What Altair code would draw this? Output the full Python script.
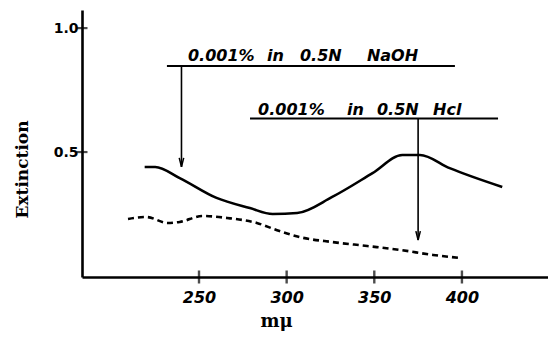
import altair as alt
import pandas as pd

# Absorption spectra: extinction against wavelength (mμ)
naoh_wl = [219, 225, 239, 260, 279, 292, 306, 326, 349, 366, 376, 393, 423]
naoh_ext = [0.44, 0.44, 0.395, 0.315, 0.274, 0.25, 0.254, 0.319, 0.415, 0.488, 0.488, 0.435, 0.359]

hcl_wl = [209.5, 220, 232, 239, 252, 266, 283, 294.5, 307.5, 326, 346, 365, 383.5, 399]
hcl_ext = [0.23, 0.238, 0.214, 0.218, 0.242, 0.234, 0.214, 0.185, 0.157, 0.137, 0.121, 0.105, 0.085, 0.073]

x_ticks = [250, 300, 350, 400]
y_ticks = [0.5, 1.0]

# Hand-lettered labels, one entry per word, with the leader arrows they carry
label_words = ["0.001%", "in", "0.5N", "NaOH", "0.001%", "in", "0.5N", "Hcl"]
label_word_x = [243.7, 288.8, 307.6, 345.8, 283.7, 334.4, 351.5, 383.5]
label_word_y = [0.867, 0.867, 0.867, 0.867, 0.649, 0.649, 0.649, 0.649]

underline_x = [231.7, 279.1]
underline_x2 = [396.0, 420.6]
underline_y = [0.847, 0.635]

arrow_x = [240, 375]
arrow_top = [0.847, 0.635]
arrow_tip = [0.44, 0.145]

X_MIN, X_MAX = 183.25, 449.1
Y_MIN, Y_MAX = -0.004, 1.073

naoh_df = pd.DataFrame({"wl": naoh_wl, "ext": naoh_ext})
hcl_df = pd.DataFrame({"wl": hcl_wl, "ext": hcl_ext})
words_df = pd.DataFrame({"word": label_words, "wl": label_word_x, "ext": label_word_y})
under_df = pd.DataFrame({"wl": underline_x, "wl2": underline_x2, "ext": underline_y})
arrow_df = pd.DataFrame({"wl": arrow_x, "top": arrow_top, "tip": arrow_tip})
xt_df = pd.DataFrame({"wl": x_ticks, "ext": [Y_MIN] * len(x_ticks)})
yt_df = pd.DataFrame({"wl": [X_MIN] * len(y_ticks), "ext": y_ticks})

xs = alt.Scale(domain=[X_MIN, X_MAX], nice=False, zero=False)
ys = alt.Scale(domain=[Y_MIN, Y_MAX], nice=False, zero=False)

x_axis = alt.Axis(
    values=x_ticks, title="mμ", grid=False, ticks=False,
    domainColor="black", domainWidth=2.6,
    labelFont="DejaVu Sans", labelFontSize=16, labelFontWeight="bold",
    labelFontStyle="italic", labelColor="black", labelPadding=12,
    titleFont="DejaVu Serif", titleFontSize=18, titleFontWeight="bold",
    titleColor="black", titleX=194, titleY=44, titleAlign="center",
    titleBaseline="middle",
)
y_axis = alt.Axis(
    values=y_ticks, format=".1f", title="Extinction", grid=False, ticks=False,
    domainColor="black", domainWidth=2.6,
    labelFont="DejaVu Sans", labelFontSize=14, labelFontWeight="bold",
    labelColor="black", labelPadding=4,
    titleFont="DejaVu Serif", titleFontSize=17, titleFontWeight="bold",
    titleColor="black", titleX=-60, titleY=159, titleAngle=270,
    titleAlign="center", titleBaseline="middle",
)


def X(field):
    return alt.X(field, type="quantitative", scale=xs, axis=x_axis)


def Y(field):
    return alt.Y(field, type="quantitative", scale=ys, axis=y_axis)


solid = alt.Chart(naoh_df).mark_line(
    color="black", strokeWidth=2.6, interpolate="monotone"
).encode(x=X("wl"), y=Y("ext"))

dashed = alt.Chart(hcl_df).mark_line(
    color="black", strokeWidth=2.6, strokeDash=[6, 4], interpolate="monotone"
).encode(x=X("wl"), y=Y("ext"))

x_tick_marks = alt.Chart(xt_df).mark_tick(
    color="black", orient="vertical", size=13, thickness=2.4
).encode(x=X("wl"), y=Y("ext"))

y_tick_marks = alt.Chart(yt_df).mark_tick(
    color="black", orient="horizontal", size=11, thickness=2.2
).encode(x=X("wl"), y=Y("ext"))

words = alt.Chart(words_df).mark_text(
    font="DejaVu Sans", fontSize=16, fontWeight="bold", fontStyle="italic",
    align="left", baseline="alphabetic", color="black"
).encode(x=X("wl"), y=Y("ext"), text="word:N")

underlines = alt.Chart(under_df).mark_rule(color="black", strokeWidth=2).encode(
    x=X("wl"), x2="wl2:Q", y=Y("ext")
)

shafts = alt.Chart(arrow_df).mark_rule(color="black", strokeWidth=1.6).encode(
    x=X("wl"), y=Y("top"), y2="tip:Q"
)

heads = alt.Chart(arrow_df).mark_point(
    shape="M-0.25,-1L0,0L0.25,-1", filled=False, color="black",
    strokeWidth=1.5, size=324, opacity=1
).encode(x=X("wl"), y=Y("tip"))

chart = alt.layer(
    solid, dashed, x_tick_marks, y_tick_marks, underlines, shafts, heads, words
).properties(
    width=466, height=267,
    autosize=alt.AutoSizeParams(type="none"),
    padding={"left": 82, "top": 10, "right": 0, "bottom": 61},
    background="white",
).configure_view(stroke=None)

chart.save("out.html", embed_options={"renderer": "svg", "actions": False})
